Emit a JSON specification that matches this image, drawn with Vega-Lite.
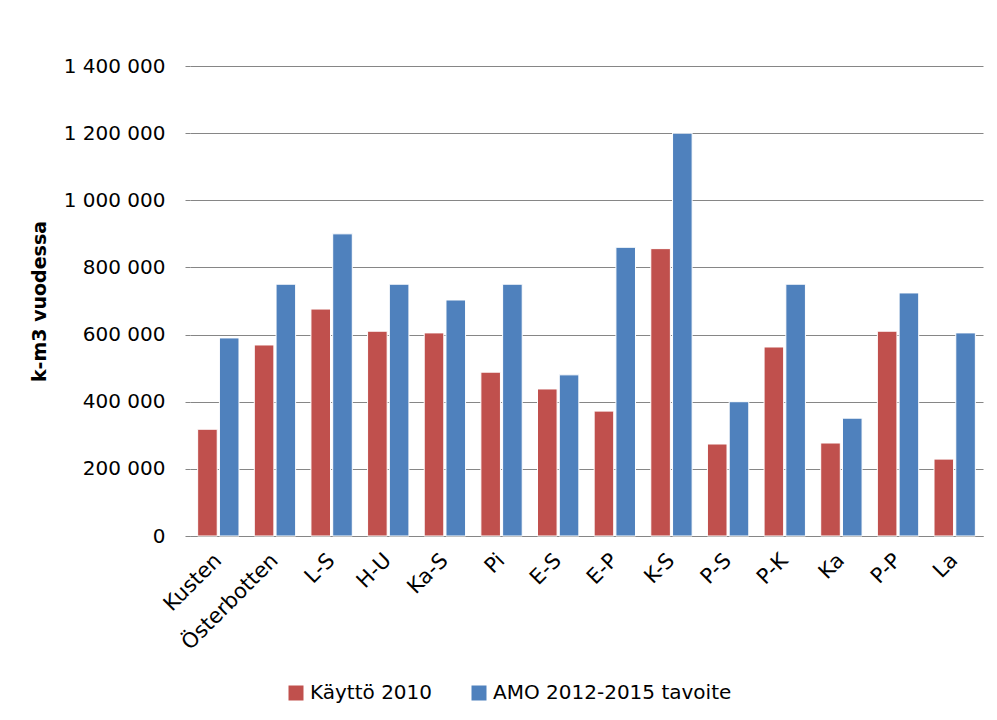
{
  "$schema": "https://vega.github.io/schema/vega-lite/v6.json",
  "width": 793,
  "height": 470,
  "autosize": {"type": "none"},
  "padding": {"left": 190, "top": 66, "right": 14, "bottom": 184},
  "background": "white",
  "data": {
    "values": [
      {"region": "Kusten", "series": "Käyttö 2010", "value": 318000},
      {"region": "Kusten", "series": "AMO 2012-2015 tavoite", "value": 590000},
      {"region": "Österbotten", "series": "Käyttö 2010", "value": 569000},
      {"region": "Österbotten", "series": "AMO 2012-2015 tavoite", "value": 750000},
      {"region": "L-S", "series": "Käyttö 2010", "value": 676000},
      {"region": "L-S", "series": "AMO 2012-2015 tavoite", "value": 900000},
      {"region": "H-U", "series": "Käyttö 2010", "value": 610000},
      {"region": "H-U", "series": "AMO 2012-2015 tavoite", "value": 750000},
      {"region": "Ka-S", "series": "Käyttö 2010", "value": 605000},
      {"region": "Ka-S", "series": "AMO 2012-2015 tavoite", "value": 703000},
      {"region": "Pi", "series": "Käyttö 2010", "value": 488000},
      {"region": "Pi", "series": "AMO 2012-2015 tavoite", "value": 750000},
      {"region": "E-S", "series": "Käyttö 2010", "value": 438000},
      {"region": "E-S", "series": "AMO 2012-2015 tavoite", "value": 480000},
      {"region": "E-P", "series": "Käyttö 2010", "value": 372000},
      {"region": "E-P", "series": "AMO 2012-2015 tavoite", "value": 860000},
      {"region": "K-S", "series": "Käyttö 2010", "value": 856000},
      {"region": "K-S", "series": "AMO 2012-2015 tavoite", "value": 1200000},
      {"region": "P-S", "series": "Käyttö 2010", "value": 274000},
      {"region": "P-S", "series": "AMO 2012-2015 tavoite", "value": 400000},
      {"region": "P-K", "series": "Käyttö 2010", "value": 563000},
      {"region": "P-K", "series": "AMO 2012-2015 tavoite", "value": 750000},
      {"region": "Ka", "series": "Käyttö 2010", "value": 277000},
      {"region": "Ka", "series": "AMO 2012-2015 tavoite", "value": 351000},
      {"region": "P-P", "series": "Käyttö 2010", "value": 610000},
      {"region": "P-P", "series": "AMO 2012-2015 tavoite", "value": 724000},
      {"region": "La", "series": "Käyttö 2010", "value": 229000},
      {"region": "La", "series": "AMO 2012-2015 tavoite", "value": 605000}
    ]
  },
  "mark": {"type": "bar", "stroke": "white", "strokeWidth": 1},
  "encoding": {
    "x": {
      "field": "region",
      "type": "nominal",
      "sort": null,
      "title": null,
      "scale": {"paddingInner": 0.27, "paddingOuter": 0.135},
      "axis": {
        "labelAngle": -45,
        "labelAlign": "right",
        "labelBaseline": "middle",
        "labelFontSize": 21,
        "labelColor": "black",
        "labelPadding": 21,
        "ticks": false,
        "domainColor": "#868686",
        "domainWidth": 1,
        "grid": false
      }
    },
    "xOffset": {
      "field": "series",
      "sort": ["Käyttö 2010", "AMO 2012-2015 tavoite"],
      "scale": {"paddingInner": 0.1}
    },
    "y": {
      "field": "value",
      "type": "quantitative",
      "title": "k-m3 vuodessa",
      "scale": {"domain": [0, 1400000], "nice": false},
      "axis": {
        "values": [0, 200000, 400000, 600000, 800000, 1000000, 1200000, 1400000],
        "labelExpr": "replace(format(datum.value, ','), /,/g, ' ')",
        "labelFontSize": 20,
        "labelColor": "black",
        "labelPadding": 20,
        "tickSize": 5,
        "tickColor": "#868686",
        "domain": false,
        "grid": true,
        "gridColor": "#868686",
        "gridWidth": 1,
        "titleFontSize": 19,
        "titleFontWeight": "bold",
        "titleColor": "black",
        "titlePadding": 14
      }
    },
    "color": {
      "field": "series",
      "type": "nominal",
      "sort": ["Käyttö 2010", "AMO 2012-2015 tavoite"],
      "scale": {
        "domain": ["Käyttö 2010", "AMO 2012-2015 tavoite"],
        "range": ["#C0504D", "#4F81BD"]
      },
      "legend": {
        "orient": "none",
        "legendX": 96,
        "legendY": 617,
        "direction": "horizontal",
        "title": null,
        "symbolType": "square",
        "symbolSize": 225,
        "symbolStrokeWidth": 0,
        "symbolOpacity": 1,
        "labelFontSize": 20,
        "labelLimit": 500,
        "labelColor": "black",
        "labelOffset": 4,
        "columnPadding": 36,
        "padding": 0
      }
    }
  },
  "config": {
    "view": {"stroke": null},
    "font": "DejaVu Sans"
  }
}
